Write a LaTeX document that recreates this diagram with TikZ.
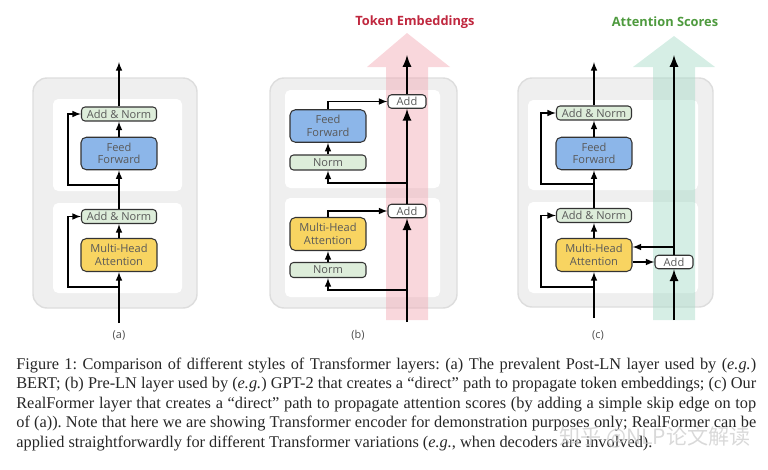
\documentclass[tikz,border=0pt]{standalone}
\usepackage{fontspec}
\setmainfont{Liberation Serif}
\newfontfamily\boxfont{Open Sans}
\newfontfamily\cjkfont{Noto Sans CJK SC}

\definecolor{normgreen}{HTML}{DDEDDA}
\definecolor{ffblue}{HTML}{8CB6E9}
\definecolor{mhayellow}{HTML}{F8D461}
\definecolor{layergray}{HTML}{EFEFEF}
\definecolor{layeredge}{HTML}{DDDDDD}
\definecolor{tokenred}{HTML}{C0283F}
\definecolor{scoregreen}{HTML}{4E9A3E}
\definecolor{tokenpink}{HTML}{F2A7B2}
\definecolor{scoremint}{HTML}{A3DAC6}

\begin{document}
\frenchspacing
\begin{tikzpicture}[x=0.02cm,y=-0.02cm,>=latex,
    layer/.style={draw=layeredge,fill=layergray,line width=0.8pt,rounded corners=8pt},
    panel/.style={fill=white,rounded corners=3pt},
    block/.style={draw=black!80,line width=0.6pt,rounded corners=2pt,inner sep=0pt,align=center,
        font=\boxfont\fontsize{6.3}{7.2}\selectfont,text=black!65},
    addnorm/.style={block,fill=normgreen,minimum width=1.5cm,minimum height=0.28cm},
    normbox/.style={block,fill=normgreen,minimum width=1.52cm,minimum height=0.3cm},
    ffwd/.style={block,fill=ffblue,minimum width=1.52cm,minimum height=0.65cm,rounded corners=3pt},
    mha/.style={block,fill=mhayellow,minimum width=1.52cm,minimum height=0.66cm,rounded corners=3pt},
    addbox/.style={block,fill=white,minimum width=0.76cm,minimum height=0.27cm},
    flow/.style={->,line width=0.7pt},
    mainflow/.style={->,line width=1.3pt},
    sublabel/.style={font=\boxfont\fontsize{6.2}{7}\selectfont,text=black!70},
    title/.style={font=\boxfont\bfseries\fontsize{7.3}{8}\selectfont},
    captext/.style={anchor=base west,inner sep=0pt,font=\fontsize{9.3}{10}\selectfont,text=black!85}]
	\useasboundingbox (0,0) rectangle (768,470);

	% layer backgrounds
	\draw[layer] (33,78) rectangle (197,308);
	\fill[panel] (53,99) rectangle (182,191);
	\fill[panel] (53,203) rectangle (182,293);
	\draw[layer] (270,78) rectangle (457,308);
	\fill[panel] (285,90) rectangle (440,188);
	\fill[panel] (285,198) rectangle (440,297);
	\draw[layer] (518,78) rectangle (713,307);
	\fill[panel] (528,100) rectangle (698,190);
	\fill[panel] (528,202) rectangle (698,293);

	% wide path arrows
	\fill[tokenpink,opacity=0.45] (386,320) -- (386,67) -- (367,67) -- (407,33)
		-- (450,67) -- (428,67) -- (428,320) -- cycle;
	\fill[scoremint,opacity=0.45] (653,320) -- (653,67) -- (633,67) -- (674,36)
		-- (715,67) -- (695,67) -- (695,320) -- cycle;
	\node (tokentitle) at (415,22) [title,text=tokenred] {Token Embeddings};
	\node (scoretitle) at (665,22) [title,text=scoregreen] {Attention Scores};

	% (a) Post-LN
	\node (aan2) at (119,114) [addnorm] {Add \& Norm};
	\node (aff) at (119,153.5) [ffwd] {Feed\\Forward};
	\node (aan1) at (119,216.5) [addnorm] {Add \& Norm};
	\node (amha) at (119,255) [mha] {Multi-Head\\Attention};
	\coordinate (ain) at (119,323);
	\coordinate (aout) at (119,62);
	\coordinate (askip1) at (119,287);
	\coordinate (askip2) at (119,185);
	\draw[flow] (ain) -- (amha);
	\draw[flow] (amha) -- (aan1);
	\draw[flow] (aan1) -- (aff);
	\draw[flow] (aff) -- (aan2);
	\draw[flow] (aan2) -- (aout);
	\draw[flow] (askip1) -- (68,287) |- (aan1);
	\draw[flow] (askip2) -- (68,185) |- (aan2);
	\node (alabel) at (119,335) [sublabel] {(a)};

	% (b) Pre-LN
	\node (btadd) at (407,101.5) [addbox] {Add};
	\node (bbadd) at (407,211) [addbox] {Add};
	\node (bff) at (328,126) [ffwd] {Feed\\Forward};
	\node (bnorm2) at (328,162.5) [normbox] {Norm};
	\node (bmha) at (328,234) [mha] {Multi-Head\\Attention};
	\node (bnorm1) at (328,270) [normbox] {Norm};
	\coordinate (bin) at (407,322);
	\coordinate (bout) at (407,55);
	\coordinate (bsplit1) at (407,290);
	\coordinate (bsplit2) at (407,183);
	\draw[mainflow] (bin) -- (bbadd);
	\draw[mainflow] (bbadd) -- (btadd);
	\draw[mainflow] (btadd) -- (bout);
	\draw[flow] (bsplit1) -| (bnorm1);
	\draw[flow] (bnorm1) -- (bmha);
	\draw[flow] (bmha) |- (bbadd);
	\draw[flow] (bsplit2) -| (bnorm2);
	\draw[flow] (bnorm2) -- (bff);
	\draw[flow] (bff) |- (btadd);
	\node (blabel) at (358,335) [sublabel] {(b)};

	% (c) RealFormer
	\node (can2) at (594,113) [addnorm] {Add \& Norm};
	\node (cff) at (594,153.5) [ffwd] {Feed\\Forward};
	\node (can1) at (594,215.5) [addnorm] {Add \& Norm};
	\node (cmha) at (594,255) [mha] {Multi-Head\\Attention};
	\node (cadd) at (674,262) [addbox] {Add};
	\coordinate (cin) at (594,318);
	\coordinate (cout) at (594,62);
	\coordinate (cskip1) at (594,287);
	\coordinate (cskip2) at (594,184);
	\coordinate (sin) at (674,320);
	\coordinate (sout) at (674,55);
	\coordinate (ssplit) at (674,247);
	\draw[flow] (cin) -- (cmha);
	\draw[flow] (cmha) -- (can1);
	\draw[flow] (can1) -- (cff);
	\draw[flow] (cff) -- (can2);
	\draw[flow] (can2) -- (cout);
	\draw[flow] (cskip1) -- (541,287) |- (can1);
	\draw[flow] (cskip2) -- (541,184) |- (can2);
	\draw[mainflow] (sin) -- (cadd);
	\draw[mainflow] (cadd) -- (sout);
	\draw[flow] (ssplit) -- (cmha.east |- ssplit);
	\draw[flow] (cmha.east |- cadd) -- (cadd);
	\node (clabel) at (598,335) [sublabel] {(c)};

	% caption
	\node (cap1) at (16,369) [captext] {\makebox[14.8cm][s]{Figure 1: Comparison of different styles of Transformer layers: (a) The prevalent Post-LN layer used by (\textit{e.g.})}};
	\node (cap2) at (16,388.5) [captext] {\makebox[14.8cm][s]{BERT; (b) Pre-LN layer used by (\textit{e.g.}) GPT-2 that creates a “direct” path to propagate token embeddings; (c) Our}};
	\node (cap3) at (16,408) [captext] {\makebox[14.8cm][s]{RealFormer layer that creates a “direct” path to propagate attention scores (by adding a simple skip edge on top}};
	\node (cap4) at (16,427.5) [captext] {\makebox[14.8cm][s]{of (a)). Note that here we are showing Transformer encoder for demonstration purposes only; RealFormer can be}};
	\node (cap5) at (16,447) [captext] {applied straightforwardly for different Transformer variations (\textit{e.g.}, when decoders are involved).};
	\node (mark) at (655,437) [font=\cjkfont\fontsize{12}{12}\selectfont,text=gray!40,opacity=0.75] {知乎 @NLP论文解读};
\end{tikzpicture}
\end{document}
